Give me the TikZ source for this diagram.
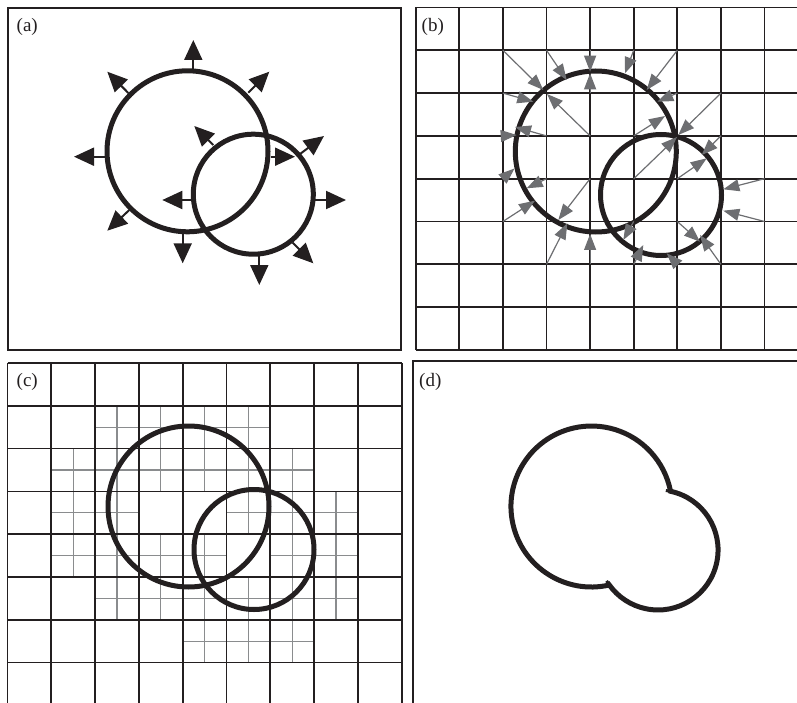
\documentclass[tikz,border=0pt]{standalone}
\usepackage{fontspec}
\setmainfont{Liberation Serif}
\usetikzlibrary{arrows.meta}
\definecolor{ink}{HTML}{231F20}
\definecolor{arrowgray}{HTML}{6D6E71}
\definecolor{finegray}{HTML}{8A8C8E}
\begin{document}
\begin{tikzpicture}[x=1pt,y=-1pt,
  frameline/.style={draw=ink,line width=1.7pt},
  gridline/.style={draw=ink,line width=1.7pt},
  fineline/.style={draw=finegray,line width=1.3pt},
  front/.style={draw=ink,line width=5pt},
  normalarrow/.style={draw=ink,line width=2pt,-{Triangle[length=20pt,width=18pt]}},
  closest/.style={draw=arrowgray,line width=1.2pt,-{Triangle[length=16pt,width=12pt]}},
  panellabel/.style={font=\fontsize{19}{19}\selectfont,anchor=base west,inner sep=0pt,text=ink}]
\useasboundingbox (0,0) rectangle (797,703);

% ---------------- panel (a)
\draw[frameline] (8,8) rectangle (401,349.7);
\node[panellabel] (la) at (16.5,31.8) {(a)};
\draw[front] (187.5,151.3) circle[radius=80.5];
\draw[front] (253.3,194.2) circle[radius=60];
\draw[normalarrow] (193.3,70.7) -- (193.3,40);
\draw[normalarrow] (128.3,93) -- (107.3,71.7);
\draw[normalarrow] (248.3,92.7) -- (269.3,71.7);
\draw[normalarrow] (105,156.7) -- (74,156.7);
\draw[normalarrow] (129.3,210) -- (107.3,230.7);
\draw[normalarrow] (182.7,233.3) -- (182.7,263.3);
\draw[normalarrow] (271,156.7) -- (295,156.7);
\draw[normalarrow] (213.3,145) -- (194.3,126);
\draw[normalarrow] (192.7,200) -- (162.3,200);
\draw[normalarrow] (300,154) -- (324,136);
\draw[normalarrow] (315,200) -- (346,200);
\draw[normalarrow] (292.7,242.7) -- (313.3,263.3);
\draw[normalarrow] (259.3,255) -- (259.3,285);

% ---------------- panel (b)
\foreach \i in {0,...,8} \draw[gridline] ({415.7+43.6*\i},7.5) -- ({415.7+43.6*\i},349.9);
\foreach \j in {0,...,8} \draw[gridline] (415.7,{7.5+42.8*\j}) -- (797,{7.5+42.8*\j});
\node[panellabel] (lb) at (421.5,31.8) {(b)};
\draw[front] (595.8,151.5) circle[radius=80.5];
\draw[front] (661,195) circle[radius=60.5];
\foreach \sx/\sy/\tx/\ty in {
  502.9/50.3/543.3/90, 546.5/50.3/566.7/80, 590.1/50.3/590.1/71.7, 590.1/93.1/590.1/73.3,
  633.7/50.3/625/73.3, 677.3/50.3/646.7/90, 677.3/93.1/657.3/101.7, 633.7/135.9/665/116,
  720.9/93.1/678.3/135, 502.9/93.1/533.3/101.7, 590.1/135.9/547/94, 546.5/135.9/515/127,
  502.9/135.9/516.7/135, 502.9/178.7/514.5/168.5, 546.5/178.7/526.7/188.3, 502.9/221.5/535/200.7,
  590.1/178.7/558.3/220, 546.5/264.3/567.3/223.3, 590.1/264.3/590.1/234, 633.7/178.7/677/137,
  677.3/178.7/706.7/158.3, 720.9/135.9/701.7/155, 764.5/178.7/723.3/189.3, 764.5/221.5/723.3/210.7,
  677.3/221.5/700/241.7, 720.9/264.3/700/235, 633.7/221.5/623.3/240, 633.7/264.3/643.3/245,
  677.3/264.3/666.7/253.3}
  \draw[closest] (\sx,\sy) -- (\tx,\ty);

% ---------------- panel (c)
\foreach \i/\j in {2/1,3/1,4/1,5/1,
  1/2,2/2,3/2,4/2,5/2,6/2,
  1/3,2/3,5/3,6/3,7/3,
  1/4,2/4,3/4,4/4,6/4,7/4,
  2/5,3/5,4/5,5/5,6/5,7/5,
  4/6,5/6,6/6}{
  \draw[fineline] ({7.5+43.8*(\i+0.5)},{363+42.8*\j}) -- ++(0,42.8);
  \draw[fineline] ({7.5+43.8*\i},{363+42.8*(\j+0.5)}) -- ++(43.8,0);
}
\foreach \i in {0,...,9} \draw[gridline] ({7.5+43.8*\i},363) -- ({7.5+43.8*\i},703);
\foreach \j in {0,...,7} \draw[gridline] (7.5,{363+42.8*\j}) -- (401.7,{363+42.8*\j});
\node[panellabel] (lc) at (16.5,386.5) {(c)};
\draw[front] (188.5,506.5) circle[radius=80.5];
\draw[front] (254,549.5) circle[radius=60];

% ---------------- panel (d)
\draw[frameline] (412.7,703) -- (412.7,361) -- (797,361);
\node[panellabel] (ld) at (419,386.5) {(d)};
\draw[front] (609.3,585.0) arc[start angle=77.2,end angle=349.1,radius=80.5]
  arc[start angle=-78,end angle=144.3,radius=60] -- cycle;
\draw[draw=ink,line width=3pt] (658,550) ++(-78:60) arc[start angle=-78,end angle=-82.5,radius=60];
\draw[draw=ink,line width=3pt] (658,550) ++(144.3:60) arc[start angle=144.3,end angle=149,radius=60];
\end{tikzpicture}
\end{document}
